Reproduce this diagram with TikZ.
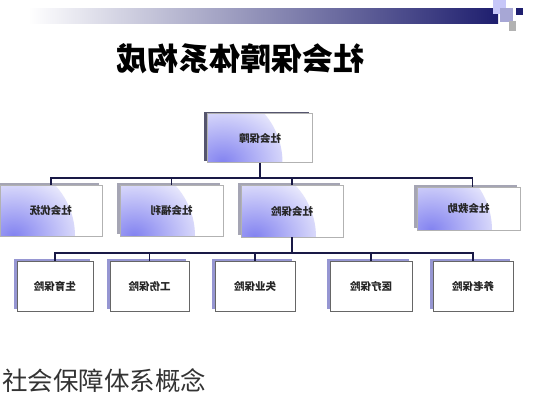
\documentclass[tikz,border=0pt]{standalone}
\usepackage{fontspec}
\newfontfamily\cjk{Noto Sans CJK SC}
\usetikzlibrary{shadows}
\definecolor{navy}{RGB}{30,30,110}
\definecolor{linec}{RGB}{25,25,70}
\definecolor{boxblue}{RGB}{130,130,240}
\definecolor{shadeA}{RGB}{85,85,110}
\definecolor{shadeB}{RGB}{165,165,180}
\definecolor{shadeC}{RGB}{150,150,210}
\newcommand\mirr[1]{\scalebox{-1}[1]{#1}}
\begin{document}
\begin{tikzpicture}[x=1pt,y=-1pt,
  conn/.style={draw=linec, line width=1.5pt},
  basebox/.style={draw=gray!60, line width=0.5pt, inner sep=0pt, outer sep=0pt,
    font=\cjk\bfseries\fontsize{10.5}{12}\selectfont, text=black!85},
  gradbox/.style={basebox, fill=white,
    path picture={\shade[inner color=boxblue, outer color=white]
      (path picture bounding box.south west) circle (75pt);}},
  topbox/.style={gradbox, minimum width=105pt, minimum height=49pt,
    general shadow={fill=shadeA, shadow xshift=-4pt, shadow yshift=2pt}},
  midbox/.style={gradbox, minimum width=102pt, minimum height=51pt,
    general shadow={fill=shadeB, shadow xshift=-3pt, shadow yshift=2pt}},
  lowbox/.style={basebox, fill=white, draw=gray!80!black, minimum height=50pt,
    general shadow={fill=shadeC, shadow xshift=-3pt, shadow yshift=2pt}},
  titlefont/.style={font=\cjk\bfseries\fontsize{31}{33}\selectfont},
]
\useasboundingbox[fill=white] (0,0) rectangle (533,400);
% banner
\shade[left color=white, right color=navy] (28,8) rectangle (498,23);
\fill[boxblue!45!white] (493,0) rectangle (506,14);
\fill[boxblue!60!gray!70] (500,8) rectangle (513,22);
\fill[navy] (516,8) rectangle (523,15);
\fill[gray!60] (509,21) rectangle (516,31);
% title
\node[titlefont] (title) at (240,59) {\mirr{社会保障体系构成}};
% top box
\node[topbox] (top) at (260,138) {\mirr{社会保障}};
% second row
\node[midbox] (youfu) at (51,210.5) {\mirr{社会优抚}};
\node[midbox, minimum width=103pt] (fuli) at (171.5,210.5) {\mirr{社会福利}};
\node[midbox, minimum height=52pt] (baoxian) at (292,211) {\mirr{社会保险}};
\node[midbox, minimum width=103pt, minimum height=43pt] (jiuzhu) at (468.5,208.5) {\mirr{社会救助}};
% third row
\node[lowbox, minimum width=76pt] (shengyu) at (55,286) {\mirr{生育保险}};
\node[lowbox, minimum width=79pt] (gongshang) at (149.5,286) {\mirr{工伤保险}};
\node[lowbox, minimum width=80pt] (shiye) at (255,286) {\mirr{失业保险}};
\node[lowbox, minimum width=82pt] (yiliao) at (371,286) {\mirr{医疗保险}};
\node[lowbox, minimum width=80pt] (yanglao) at (473,286) {\mirr{养老保险}};
% buses
\coordinate (busA) at (0,178);
\coordinate (busB) at (0,253);
\draw[conn] (top.south) -- (top.south |- busA);
\draw[conn] (youfu.north) -- (youfu.north |- busA) -- ([xshift=4pt]jiuzhu.north |- busA) -- ([xshift=4pt]jiuzhu.north);
\draw[conn] (fuli.north) -- (fuli.north |- busA);
\draw[conn] (baoxian.north) -- (baoxian.north |- busA);
\draw[conn] (baoxian.south) -- (baoxian.south |- busB);
\draw[conn] (shengyu.north) -- (shengyu.north |- busB) -- (yanglao.north |- busB) -- (yanglao.north);
\draw[conn] (gongshang.north) -- (gongshang.north |- busB);
\draw[conn] (shiye.north) -- (shiye.north |- busB);
\draw[conn] (yiliao.north) -- (yiliao.north |- busB);
% caption
\node[anchor=west, font=\cjk\fontsize{25.5}{27}\selectfont, text=black!80, inner sep=0pt] (caption) at (2,381) {社会保障体系概念};
\end{tikzpicture}
\end{document}
